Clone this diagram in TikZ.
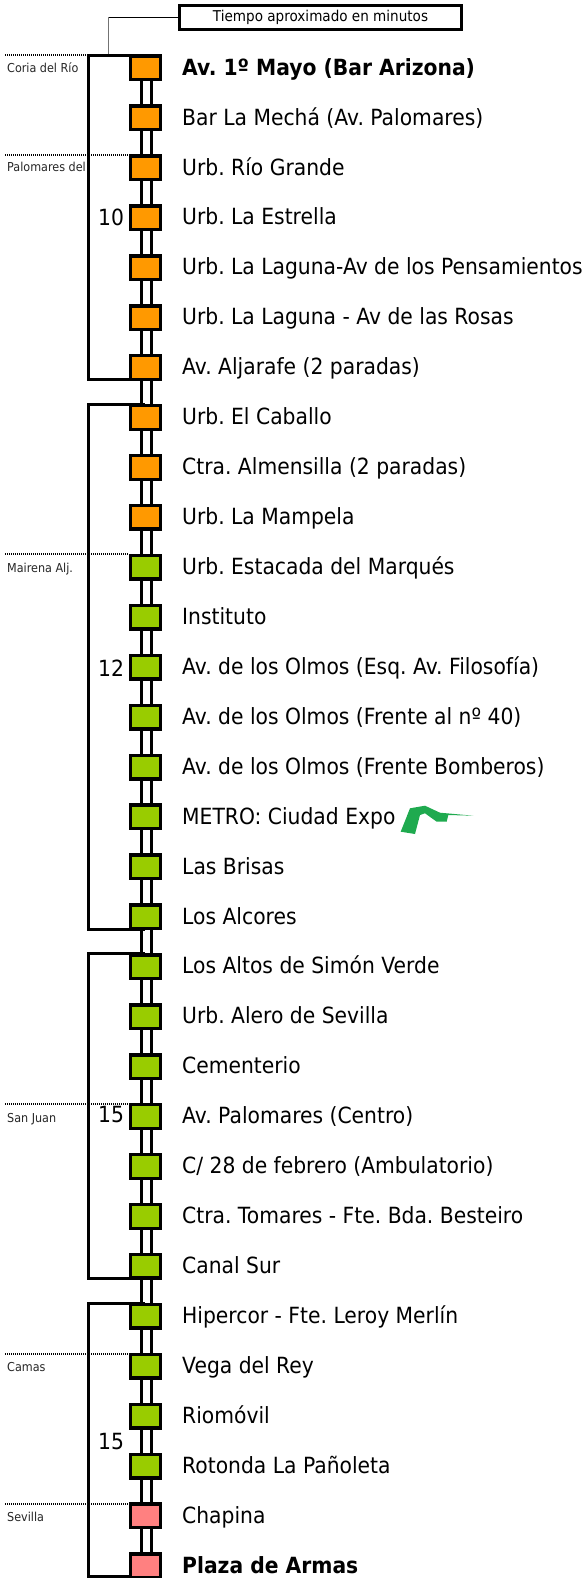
\documentclass[tikz,border=0pt]{standalone}
\usepackage{fontspec}
\setmainfont{DejaVu Sans}[FakeStretch=0.91]
\frenchspacing
\tikzset{
  x=1pt,y=-1pt,
  stopbox/.style={draw=black,line width=3.4pt,minimum width=29.6pt,minimum height=23.6pt,inner sep=0pt,outer sep=0pt,fill=#1},
  rail/.style={line width=3pt,draw=black},
  bracket/.style={line width=3pt,draw=black},
  place/.style={draw=black,line width=2pt,dash pattern=on 1pt off 1pt},
  stoplabel/.style={anchor=base west,inner sep=0pt,font=\fontsize{22.3pt}{24pt}\selectfont},
  boldlabel/.style={stoplabel,font=\fontsize{22.3pt}{24pt}\selectfont\bfseries},
  townlabel/.style={anchor=base west,inner sep=0pt,text=black!85,font=\fontsize{12.3pt}{14pt}\selectfont},
  minutes/.style={anchor=base west,inner sep=0pt,font=\fontsize{22.3pt}{24pt}\selectfont},
}
\definecolor{orangeS}{HTML}{FF9900}
\definecolor{greenS}{HTML}{99CC00}
\definecolor{pinkS}{HTML}{FF8080}
\definecolor{metroG}{HTML}{1FAA4F}
\begin{document}
\begin{tikzpicture}
\useasboundingbox (0,0) rectangle (582,1578);
\clip (0,0) rectangle (582,1578);
\foreach \yy/\xe in {55.5/88,155.5/129,553.5/129,1103.5/129,1353.5/129,1503.5/129}{
  \draw[place] (5,\yy) -- (\xe,\yy);
}
\node[townlabel] (t1) at (7,72.5) {Coria del Río};
\begin{scope}
\clip (0,140) rectangle (87,190);
\node[townlabel] (t2) at (7,172) {Palomares del Río};
\end{scope}
\node[townlabel] (t3) at (7,572.5) {Mairena Alj.};
\node[townlabel] (t4) at (7,1122) {San Juan};
\node[townlabel] (t5) at (7,1371) {Camas};
\node[townlabel] (t6) at (7,1521) {Sevilla};
\foreach \i/\col/\txt/\sty in {
 0/orangeS/{Av. 1º Mayo (Bar Arizona)}/boldlabel,
 1/orangeS/{Bar La Mechá (Av. Palomares)}/stoplabel,
 2/orangeS/{Urb. Río Grande}/stoplabel,
 3/orangeS/{Urb. La Estrella}/stoplabel,
 4/orangeS/{Urb. La Laguna-Av de los Pensamientos}/stoplabel,
 5/orangeS/{Urb. La Laguna - Av de las Rosas}/stoplabel,
 6/orangeS/{Av. Aljarafe (2 paradas)}/stoplabel,
 7/orangeS/{Urb. El Caballo}/stoplabel,
 8/orangeS/{Ctra. Almensilla (2 paradas)}/stoplabel,
 9/orangeS/{Urb. La Mampela}/stoplabel,
 10/greenS/{Urb. Estacada del Marqués}/stoplabel,
 11/greenS/{Instituto}/stoplabel,
 12/greenS/{Av. de los Olmos (Esq. Av. Filosofía)}/stoplabel,
 13/greenS/{Av. de los Olmos (Frente al nº 40)}/stoplabel,
 14/greenS/{Av. de los Olmos (Frente Bomberos)}/stoplabel,
 15/greenS/{METRO: Ciudad Expo}/stoplabel,
 16/greenS/{Las Brisas}/stoplabel,
 17/greenS/{Los Alcores}/stoplabel,
 18/greenS/{Los Altos de Simón Verde}/stoplabel,
 19/greenS/{Urb. Alero de Sevilla}/stoplabel,
 20/greenS/{Cementerio}/stoplabel,
 21/greenS/{Av. Palomares (Centro)}/stoplabel,
 22/greenS/{C/ 28 de febrero (Ambulatorio)}/stoplabel,
 23/greenS/{Ctra. Tomares - Fte. Bda. Besteiro}/stoplabel,
 24/greenS/{Canal Sur}/stoplabel,
 25/greenS/{Hipercor - Fte. Leroy Merlín}/stoplabel,
 26/greenS/{Vega del Rey}/stoplabel,
 27/greenS/{Riomóvil}/stoplabel,
 28/greenS/{Rotonda La Pañoleta}/stoplabel,
 29/pinkS/{Chapina}/stoplabel,
 30/pinkS/{Plaza de Armas}/boldlabel}{
  \coordinate (c\i) at (145.5,68+49.93*\i);
  \node[\sty] (l\i) at (182,68+49.93*\i+7.2) {\txt};
}
\coordinate (r0a) at (141.7,68);\coordinate (r1a) at (141.7,1578);
\coordinate (r0b) at (151.3,68);\coordinate (r1b) at (151.3,1578);
\draw[rail] (r0a) -- (r1a);
\draw[rail] (r0b) -- (r1b);
\coordinate (k1t) at (145,55.5);\coordinate (k1b) at (145,379);
\coordinate (k2t) at (145,404.5);\coordinate (k2b) at (145,929);
\coordinate (k3t) at (145,953.5);\coordinate (k3b) at (145,1278);
\coordinate (k4t) at (145,1303.5);\coordinate (k4b) at (145,1576.5);
\foreach \p in {1,2,3,4}{
  \draw[bracket] (k\p t) -| (88,0 |- k\p b) -- (k\p b);
}
\foreach \i/\col in {0/orangeS,1/orangeS,2/orangeS,3/orangeS,4/orangeS,5/orangeS,6/orangeS,7/orangeS,8/orangeS,9/orangeS,10/greenS,11/greenS,12/greenS,13/greenS,14/greenS,15/greenS,16/greenS,17/greenS,18/greenS,19/greenS,20/greenS,21/greenS,22/greenS,23/greenS,24/greenS,25/greenS,26/greenS,27/greenS,28/greenS,29/pinkS,30/pinkS}{
  \node[stopbox=\col] (s\i) at (c\i) {};
}
\node[minutes] (m1) at (98,226) {10};
\node[minutes] (m2) at (98,676) {12};
\node[minutes] (m3) at (98,1122) {15};
\node[minutes] (m4) at (98,1449) {15};
\node[draw=black,line width=3pt,minimum width=282pt,minimum height=24pt,inner sep=0pt,font=\fontsize{14.9pt}{16pt}\selectfont] (hdr) at (320.5,17.5) {Tiempo aproximado en minutos};
\coordinate (hk) at (108,17.5);
\coordinate (hb) at (108,54);
\draw[line width=1pt,black] (hdr.west) -- (hk);
\draw[line width=1pt,black!55] (hk) -- (hb);
\fill[metroG] (400.7,831.7) -- (410,808.3) -- (425,805.7) -- (440,812.7) -- (473.3,815.7) -- (448.3,815) -- (446.7,821.7) -- (436.7,821.7) -- (425,813.3) -- (420,815) -- (415,834) -- cycle;
\end{tikzpicture}
\end{document}
